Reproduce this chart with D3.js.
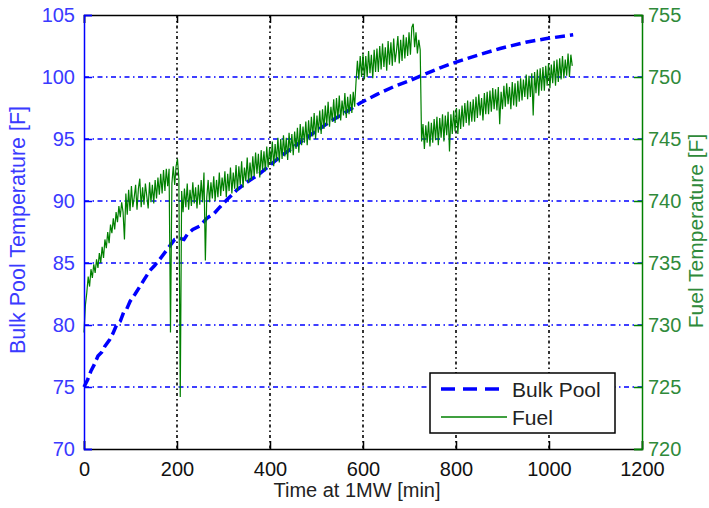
<!DOCTYPE html>
<html>
<head>
<meta charset="utf-8">
<script src="https://cdn.jsdelivr.net/npm/d3@7"></script>
<style>
  html, body { margin: 0; padding: 0; background: #fff; }
  svg { display: block; }
  text { font-family: "Liberation Sans", Arial, Helvetica, sans-serif; }
</style>
</head>
<body>
<svg id="chart" width="709" height="508"></svg>
<script>
// ---------------- data ----------------
const xTicks = [0, 200, 400, 600, 800, 1000, 1200];
const leftTicks = [70, 75, 80, 85, 90, 95, 100, 105];
const rightTicks = [720, 725, 730, 735, 740, 745, 750, 755];

// Bulk pool temperature [F] vs time [min]
const bulkTime = [0, 8, 15, 22, 30, 38, 45, 55, 62, 70, 78, 85, 92, 99, 110, 120, 130, 142, 152, 163, 175, 185, 195, 205, 215, 222, 234, 250, 264, 280, 292, 310, 329, 350, 378, 400, 430, 460, 490, 529, 560, 594, 630, 665, 700, 737, 770, 800, 850, 895, 950, 995, 1052];
const bulkTemp = [75.0, 75.6, 76.3, 76.8, 77.5, 77.8, 78.3, 78.8, 79.3, 80.0, 80.3, 81.0, 81.3, 81.9, 82.5, 83.1, 83.7, 84.4, 84.8, 85.3, 85.9, 86.4, 86.9, 87.0, 86.9, 87.3, 87.7, 88.0, 88.6, 89.0, 89.5, 90.2, 90.9, 91.5, 92.2, 92.9, 93.8, 94.6, 95.4, 96.4, 97.1, 97.9, 98.6, 99.2, 99.7, 100.3, 100.8, 101.2, 101.8, 102.3, 102.8, 103.1, 103.4];

// Fuel temperature [F], sampled every 3 min from t = 0
const fuelStart = 0;
const fuelStep = 3;
const fuelTemp = [
  729.4, 731.6, 732.6, 733.9, 733.1, 734.5, 733.8, 734.9, 734.2, 735.3,
  734.6, 735.8, 735.0, 736.3, 735.4, 736.9, 736.2, 737.5, 736.6, 738.1,
  737.4, 738.6, 737.7, 739.1, 738.3, 739.6, 738.7, 739.9, 739.1, 736.9,
  740.6, 738.9, 740.9, 739.2, 741.2, 739.5, 740.3, 741.3, 739.3, 741.0,
  741.8, 739.5, 741.1, 739.7, 741.4, 740.4, 739.4, 741.5, 739.9, 741.3,
  739.8, 741.7, 740.2, 741.9, 740.5, 742.2, 740.6, 742.5, 740.8, 742.6,
  741.2, 742.6, 729.4, 741.4, 742.8, 741.3, 742.8, 743.4, 741.8, 724.2,
  740.8, 739.1, 741.0, 739.5, 741.4, 739.3, 740.9, 739.6, 741.5, 739.8,
  741.1, 739.4, 741.3, 739.7, 741.7, 739.9, 742.3, 735.2, 740.3, 741.7,
  739.9, 741.5, 740.2, 742.0, 740.0, 741.7, 740.3, 742.3, 740.4, 741.9,
  740.8, 742.4, 740.3, 742.2, 740.8, 742.7, 740.6, 742.3, 741.0, 742.9,
  740.8, 742.8, 741.3, 743.2, 741.1, 742.7, 741.6, 743.5, 741.5, 743.1,
  741.7, 743.6, 742.0, 743.9, 742.2, 743.8, 741.9, 744.1, 742.5, 744.0,
  742.4, 744.4, 742.7, 744.3, 743.0, 744.8, 742.8, 744.6, 743.2, 745.1,
  743.1, 745.0, 743.4, 745.3, 743.6, 745.1, 743.3, 745.5, 743.9, 745.4,
  743.7, 745.6, 744.2, 745.9, 743.9, 746.2, 744.5, 746.0, 744.7, 746.4,
  744.5, 746.5, 744.9, 746.8, 745.2, 747.1, 745.0, 746.9, 745.5, 747.3,
  745.4, 747.4, 745.8, 747.7, 746.1, 748.0, 746.0, 747.6, 746.4, 748.2,
  746.3, 748.3, 746.6, 748.5, 746.5, 748.1, 746.9, 748.7, 746.7, 748.4,
  747.0, 748.6, 747.1, 748.8, 747.6, 749.6, 751.3, 749.8, 751.7, 750.0,
  751.9, 749.8, 751.7, 750.0, 752.1, 750.3, 751.8, 749.9, 752.2, 750.4,
  752.3, 750.4, 752.5, 750.6, 752.7, 750.8, 752.4, 750.5, 752.9, 751.0,
  752.8, 750.9, 753.1, 751.2, 752.1, 753.3, 751.1, 753.0, 751.3, 753.4,
  751.5, 753.2, 751.7, 753.6, 751.8, 754.0, 754.3, 752.4, 753.6, 751.9,
  753.0, 752.2, 744.8, 746.2, 744.2, 746.1, 744.7, 746.4, 744.4, 746.3,
  744.7, 746.6, 744.9, 746.8, 744.5, 746.7, 745.1, 747.0, 744.8, 746.9,
  745.3, 747.2, 744.0, 747.0, 745.4, 747.3, 745.6, 747.5, 745.4, 747.4,
  745.8, 747.7, 746.0, 747.9, 746.3, 748.1, 746.1, 748.0, 746.4, 748.2,
  746.4, 748.4, 746.7, 748.6, 746.9, 748.3, 746.5, 748.7, 747.0, 748.8,
  747.0, 748.9, 747.2, 749.1, 747.4, 749.0, 747.3, 749.2, 746.2, 748.8,
  747.4, 749.3, 747.6, 749.5, 747.8, 749.2, 747.4, 749.6, 747.7, 749.5,
  747.6, 749.7, 748.0, 749.9, 748.1, 749.8, 748.4, 750.2, 748.2, 750.1,
  748.4, 750.3, 746.9, 750.4, 748.7, 750.6, 748.5, 750.7, 748.9, 750.8,
  748.9, 750.9, 749.3, 751.1, 749.1, 751.0, 749.5, 751.3, 749.3, 751.4,
  749.6, 751.5, 749.8, 751.7, 749.9, 751.4, 750.1, 751.9, 750.0, 751.8,
  750.9
];

const labels = {
  x: "Time at 1MW [min]",
  left: "Bulk Pool Temperature [F]",
  right: "Fuel Temperature [F]",
  legendBulk: "Bulk Pool",
  legendFuel: "Fuel"
};

// ---------------- drawing ----------------
const svg = d3.select("#chart");
const L = 84, R = 642, T = 15, B = 449;
const blue = "#0000ff", green = "#008000";
const tickFont = 20, labelFont = 21.5;

const x = d3.scaleLinear().domain([0, 1200]).range([L, R]);
const yL = d3.scaleLinear().domain([70, 105]).range([B, T]);
const yR = d3.scaleLinear().domain([720, 755]).range([B, T]);

// grid
const grid = svg.append("g");
grid.selectAll("line.v").data(xTicks.slice(1, -1)).enter().append("line")
  .attr("x1", d => x(d)).attr("x2", d => x(d)).attr("y1", T).attr("y2", B)
  .attr("stroke", "#000").attr("stroke-width", 1.6).attr("stroke-dasharray", "3,3,1.5,3");
grid.selectAll("line.h").data(leftTicks.slice(1, -1)).enter().append("line")
  .attr("x1", L).attr("x2", R).attr("y1", d => yL(d)).attr("y2", d => yL(d))
  .attr("stroke", blue).attr("stroke-width", 1.6).attr("stroke-dasharray", "5,3.5,1.5,3.5");

// bulk pool line
const bulkData = bulkTime.map((t, i) => [t, bulkTemp[i]]);
svg.append("path").datum(bulkData)
  .attr("fill", "none").attr("stroke", blue).attr("stroke-width", 3.5)
  .attr("stroke-dasharray", "10,5")
  .attr("d", d3.line().x(d => x(d[0])).y(d => yL(d[1])));

// fuel line
const fuelData = fuelTemp.map((v, i) => [fuelStart + i * fuelStep, v]);
svg.append("path").datum(fuelData)
  .attr("fill", "none").attr("stroke", green).attr("stroke-width", 1.2)
  .attr("stroke-linejoin", "miter")
  .attr("d", d3.line().x(d => x(d[0])).y(d => yR(d[1])));

// axes
const axB = svg.append("g").attr("transform", `translate(0,${B})`)
  .call(d3.axisBottom(x).tickValues(xTicks).tickSize(-8).tickPadding(13).tickFormat(d3.format("d")));
axB.select(".domain").attr("stroke", "#000").attr("stroke-width", 1.5);
axB.selectAll(".tick line").attr("stroke", "#000").attr("stroke-width", 1.5);
axB.selectAll(".tick text").attr("fill", "#111").attr("font-size", tickFont);

const axT = svg.append("g").attr("transform", `translate(0,${T})`)
  .call(d3.axisTop(x).tickValues(xTicks).tickSize(-8).tickFormat(""));
axT.select(".domain").attr("stroke", "#000").attr("stroke-width", 1.5);
axT.selectAll(".tick line").attr("stroke", "#000").attr("stroke-width", 1.5);

const axL = svg.append("g").attr("transform", `translate(${L},0)`)
  .call(d3.axisLeft(yL).tickValues(leftTicks).tickSize(-8).tickPadding(9).tickFormat(d3.format("d")));
axL.select(".domain").attr("stroke", blue).attr("stroke-width", 1.5);
axL.selectAll(".tick line").attr("stroke", blue).attr("stroke-width", 1.5);
axL.selectAll(".tick text").attr("fill", "#3a3aff").attr("font-size", tickFont);

const axR = svg.append("g").attr("transform", `translate(${R},0)`)
  .call(d3.axisRight(yR).tickValues(rightTicks).tickSize(-8).tickPadding(6).tickFormat(d3.format("d")));
axR.select(".domain").attr("stroke", green).attr("stroke-width", 1.5);
axR.selectAll(".tick line").attr("stroke", green).attr("stroke-width", 1.5);
axR.selectAll(".tick text").attr("fill", "#2f8a3a").attr("font-size", tickFont);

// axis labels
svg.append("text").attr("x", 357).attr("y", 497)
  .attr("text-anchor", "middle").attr("font-size", 20).attr("fill", "#222")
  .text(labels.x);
svg.append("text").attr("transform", `translate(25,230) rotate(-90)`)
  .attr("text-anchor", "middle").attr("font-size", labelFont).attr("fill", "#3a3aff")
  .text(labels.left);
svg.append("text").attr("transform", `translate(703,231) rotate(-90)`)
  .attr("text-anchor", "middle").attr("font-size", 21).attr("fill", "#2f8a3a")
  .text(labels.right);

// legend
const lg = svg.append("g");
lg.append("rect").attr("x", 430).attr("y", 373).attr("width", 185).attr("height", 60)
  .attr("fill", "#fff").attr("stroke", "#000").attr("stroke-width", 1.5);
lg.append("line").attr("x1", 441).attr("x2", 507).attr("y1", 389).attr("y2", 389)
  .attr("stroke", blue).attr("stroke-width", 3.5).attr("stroke-dasharray", "14,8");
lg.append("line").attr("x1", 441).attr("x2", 507).attr("y1", 417).attr("y2", 417)
  .attr("stroke", green).attr("stroke-width", 1.5);
lg.append("text").attr("x", 512).attr("y", 397).attr("font-size", 21).attr("fill", "#222")
  .text(labels.legendBulk);
lg.append("text").attr("x", 512).attr("y", 425).attr("font-size", 21).attr("fill", "#222")
  .text(labels.legendFuel);
</script>
</body>
</html>
